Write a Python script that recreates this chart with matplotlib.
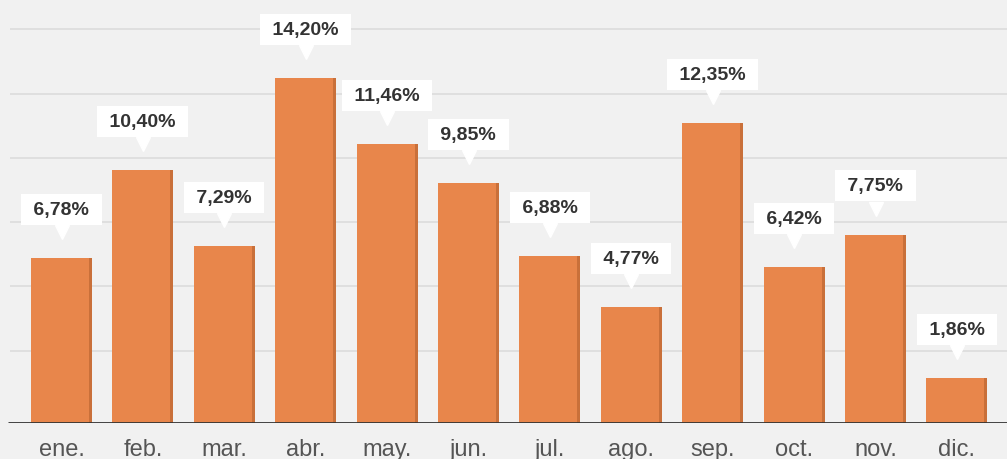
import numpy as np
import matplotlib
matplotlib.use("Agg")
import matplotlib.pyplot as plt
from matplotlib.transforms import offset_copy

# data
months = ["ene.", "feb.", "mar.", "abr.", "may.", "jun.",
          "jul.", "ago.", "sep.", "oct.", "nov.", "dic."]
values = [6.78, 10.40, 7.29, 14.20, 11.46, 9.85,
          6.88, 4.77, 12.35, 6.42, 7.75, 1.86]
labels = ["6,78%", "10,40%", "7,29%", "14,20%", "11,46%", "9,85%",
          "6,88%", "4,77%", "12,35%", "6,42%", "7,75%", "1,86%"]

plt.rcParams['font.family'] = ['Liberation Sans', 'DejaVu Sans']

bg = "#f1f1f1"
bar_color = "#e8864b"
shade_color = "#c9703a"

fig = plt.figure(figsize=(10.07, 4.60), dpi=100, facecolor=bg)
ax = fig.add_axes([0, 36 / 460, 1, 424 / 460])
ax.set_facecolor(bg)

x = np.arange(len(months))
px_unit = 81.4  # pixels per category
w = 61 / px_unit
ax.set_xlim(-61.5 / px_unit, (1007 - 61.5) / px_unit)
ax.set_ylim(0, 424.5 / 24.35)

# horizontal grid
grid_vals = 2.98 + 2.64 * np.arange(6)
ax.hlines(grid_vals, -52 / px_unit, 20, color="#dcdcdc", lw=1.2, zorder=0)

# bars with darker right edge
ax.bar(x, values, width=w, color=bar_color, zorder=2)
sw = 3 / px_unit
ax.bar(x + w / 2 - sw / 2, values, width=sw, color=shade_color, zorder=3)

# baseline
ax.hlines([0], -53 / px_unit, 20, color="#333333", lw=2.0, zorder=4)

# value labels with pointer
tri = offset_copy(ax.transData, fig=fig, x=0, y=26, units="dots")
ax.plot(x, values, linestyle="none", marker="v", markersize=10,
        color="white", transform=tri, zorder=5)
for xi, v, lab in zip(x, values, labels):
    ax.annotate(" " + lab + " ", (xi, v), xytext=(0, 35), textcoords="offset points",
                ha="center", va="center", fontsize=14, fontweight="bold",
                color="#333333", zorder=6,
                bbox=dict(boxstyle="square,pad=0.36", fc="white", ec="none"))

ax.set_xticks(x)
ax.set_xticklabels(months, fontsize=17, color="#555555")
ax.tick_params(axis="x", length=0, pad=10.5)
ax.set_yticks([])
for s in ax.spines.values():
    s.set_visible(False)

fig.savefig("out.png", dpi=100, facecolor=bg)
